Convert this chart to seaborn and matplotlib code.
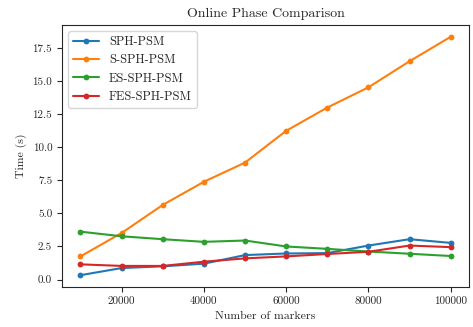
import matplotlib
matplotlib.use("Agg")
import matplotlib.pyplot as plt
import pandas as pd
import seaborn as sns

markers = [10000, 20000, 30000, 40000, 50000, 60000, 70000, 80000, 90000, 100000]
sph_psm = [0.33, 0.87, 1.00, 1.20, 1.85, 1.97, 2.00, 2.57, 3.05, 2.77]
s_sph_psm = [1.75, 3.52, 5.64, 7.39, 8.84, 11.24, 13.00, 14.53, 16.50, 18.35]
es_sph_psm = [3.62, 3.27, 3.05, 2.85, 2.95, 2.50, 2.32, 2.12, 1.95, 1.78]
fes_sph_psm = [1.15, 1.03, 1.03, 1.35, 1.60, 1.75, 1.93, 2.10, 2.57, 2.45]
methods = ["SPH-PSM", "S-SPH-PSM", "ES-SPH-PSM", "FES-SPH-PSM"]

sns.set_style("ticks")
plt.rcParams["font.family"] = "serif"
plt.rcParams["font.serif"] = ["cmr10", "DejaVu Serif"]
plt.rcParams["mathtext.fontset"] = "cm"
plt.rcParams["axes.formatter.use_mathtext"] = True

frames = []
for name, vals in zip(methods, [sph_psm, s_sph_psm, es_sph_psm, fes_sph_psm]):
    frames.append(pd.DataFrame({"markers": markers, "time": vals, "method": name}))
df = pd.concat(frames, ignore_index=True)

fig, ax = plt.subplots(figsize=(4.73, 3.27), dpi=100)
sns.lineplot(data=df, x="markers", y="time", hue="method", hue_order=methods,
             palette=["#1f77b4", "#ff7f0e", "#2ca02c", "#d62728"],
             marker="o", markersize=4.2, markeredgewidth=0, linewidth=1.5, ax=ax)

ax.set_title("Online Phase Comparison", fontsize=10)
ax.set_xlabel("Number of markers", fontsize=8.5)
ax.set_ylabel("Time (s)", fontsize=8.5)
ax.tick_params(labelsize=8)
ax.set_xticks([20000, 40000, 60000, 80000, 100000])
ax.set_yticks([0, 2.5, 5, 7.5, 10, 12.5, 15, 17.5])
ax.set_yticklabels(["0.0", "2.5", "5.0", "7.5", "10.0", "12.5", "15.0", "17.5"])
ax.set_xticklabels(["20000", "40000", "60000", "80000", "100000"])
for s in ax.spines.values():
    s.set_linewidth(0.8)
    s.set_visible(True)
leg = ax.legend(loc="upper left", fontsize=8.9, frameon=True, handlelength=2.1)
leg.get_frame().set_edgecolor("#cccccc")

fig.subplots_adjust(left=0.131, right=0.992, top=0.924, bottom=0.122)
fig.savefig("out.png", dpi=100)
